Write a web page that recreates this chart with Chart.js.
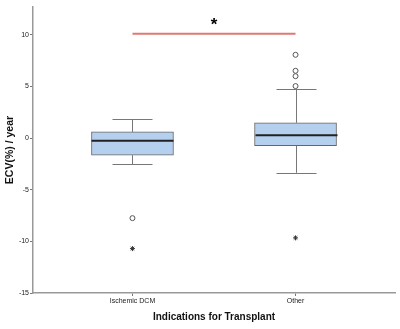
<!DOCTYPE html>
<html>
<head>
<meta charset="utf-8">
<script src="https://cdn.jsdelivr.net/npm/chart.js@4"></script>
<style>
  html, body { margin: 0; padding: 0; background: #fff; }
  #wrap { width: 400px; height: 329px; }
</style>
</head>
<body>
<div id="wrap"><canvas id="c"></canvas></div>
<script>
// box plot values (ECV % per year)
const categories = ['Ischemic DCM', 'Other'];
const lowerWhisker = [-2.55, -3.36];
const q1 = [-1.65, -0.74];
const median = [-0.26, 0.29];
const q3 = [0.6, 1.48];
const upperWhisker = [1.84, 4.8];
const outliers = [[-7.75], [8.07, 6.52, 6.0, 5.04]];
const extremes = [[-10.7], [-9.66]];
const sigLine = [10.1, 10.1];
const yTicks = [-15, -10, -5, 0, 5, 10];

const BOX_W = 82;
const CAP_W = 40;
const FONT = '"Liberation Sans", Arial, sans-serif';

const whiskerPlugin = {
  id: 'whiskers',
  afterDatasetsDraw(chart) {
    const { ctx, scales: { x, y } } = chart;
    ctx.save();
    categories.forEach(function(_, i) {
      const cx = Math.round(x.getPixelForValue(i)) + 0.5;
      ctx.strokeStyle = '#777';
      ctx.lineWidth = 1;
      ctx.beginPath();
      ctx.moveTo(cx, y.getPixelForValue(q3[i]));
      ctx.lineTo(cx, y.getPixelForValue(upperWhisker[i]));
      ctx.moveTo(cx, y.getPixelForValue(q1[i]));
      ctx.lineTo(cx, y.getPixelForValue(lowerWhisker[i]));
      [upperWhisker[i], lowerWhisker[i]].forEach(function(v) {
        const py = Math.round(y.getPixelForValue(v)) + 0.5;
        ctx.moveTo(cx - CAP_W / 2, py);
        ctx.lineTo(cx + CAP_W / 2, py);
      });
      ctx.stroke();
      // median
      ctx.strokeStyle = '#222';
      ctx.lineWidth = 2;
      ctx.beginPath();
      const my = y.getPixelForValue(median[i]);
      ctx.moveTo(cx - BOX_W / 2, my);
      ctx.lineTo(cx + BOX_W / 2, my);
      ctx.stroke();
    });
    // significance mark
    ctx.fillStyle = '#000';
    ctx.font = 'bold 17px ' + FONT;
    ctx.textAlign = 'center';
    ctx.textBaseline = 'middle';
    ctx.fillText('*', x.getPixelForValue(0.5), y.getPixelForValue(sigLine[0]) - 9);
    ctx.restore();
  }
};

function pts(groups) {
  const out = [];
  groups.forEach(function(g, i) { g.forEach(function(v) { out.push({ x: i, y: v }); }); });
  return out;
}

new Chart(document.getElementById('c'), {
  type: 'bar',
  data: {
    datasets: [
      {
        type: 'bar',
        data: categories.map(function(_, i) { return { x: i, y: [q1[i], q3[i]] }; }),
        backgroundColor: '#b5cfee',
        borderColor: '#666',
        borderWidth: 1,
        borderSkipped: false,
        barThickness: BOX_W
      },
      {
        type: 'scatter',
        data: pts(outliers),
        pointStyle: 'circle',
        radius: 2.5,
        borderColor: '#555',
        borderWidth: 1,
        backgroundColor: '#fff'
      },
      {
        type: 'scatter',
        data: pts(extremes),
        pointStyle: 'star',
        radius: 2.5,
        borderColor: '#333',
        borderWidth: 1
      },
      {
        type: 'line',
        data: sigLine.map(function(v, i) { return { x: i, y: v }; }),
        borderColor: '#e07a70',
        borderWidth: 2,
        pointRadius: 0
      }
    ]
  },
  options: {
    responsive: true,
    maintainAspectRatio: false,
    animation: false,
    layout: { padding: { top: 7, right: 3, left: 0, bottom: 0 } },
    plugins: { legend: { display: false }, tooltip: { enabled: false } },
    scales: {
      x: {
        type: 'linear',
        min: -0.61,
        max: 1.61,
        offset: false,
        afterBuildTicks: function(s) { s.ticks = categories.map(function(_, i) { return { value: i }; }); },
        afterFit: function(s) { s.height = 36; },
        ticks: {
          autoSkip: false,
          maxRotation: 0,
          padding: 1,
          color: '#222',
          font: { size: 7, family: FONT },
          callback: function(v) { return categories[v]; }
        },
        grid: { offset: false, drawOnChartArea: false, drawTicks: true, tickLength: 3, color: '#777' },
        border: { display: true, color: '#999', width: 1.5 },
        title: {
          display: true,
          text: 'Indications for Transplant',
          color: '#111',
          font: { size: 10, weight: 'bold', family: FONT },
          padding: { top: 0, bottom: 6 }
        }
      },
      y: {
        min: -15,
        max: 12.7,
        afterBuildTicks: function(s) { s.ticks = yTicks.map(function(v) { return { value: v }; }); },
        afterFit: function(s) { s.width = 33; },
        ticks: {
          padding: 1,
          color: '#222',
          font: { size: 7, family: FONT }
        },
        grid: { drawOnChartArea: false, drawTicks: true, tickLength: 3, color: '#777' },
        border: { display: true, color: '#999', width: 1.5 },
        title: {
          display: true,
          text: 'ECV(%) / year',
          color: '#111',
          font: { size: 10.5, weight: 'bold', family: FONT },
          padding: { top: 4, bottom: 0 }
        }
      }
    }
  },
  plugins: [whiskerPlugin]
});
</script>
</body>
</html>
